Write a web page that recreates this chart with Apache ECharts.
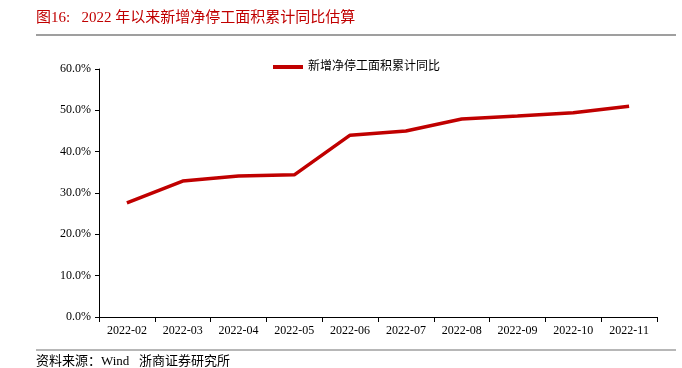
<!DOCTYPE html>
<html>
<head>
<meta charset="utf-8">
<script src="https://cdn.jsdelivr.net/npm/echarts@6/dist/echarts.min.js"></script>
<style>
html, body { margin: 0; padding: 0; background: #fff; }
#chart { width: 682px; height: 368px; }
</style>
</head>
<body>
<div id="chart"></div>
<script>
const months = ['2022-02', '2022-03', '2022-04', '2022-05', '2022-06', '2022-07', '2022-08', '2022-09', '2022-10', '2022-11']
const yoyValues = [27.6, 32.9, 34.1, 34.4, 44.0, 45.0, 47.9, 48.6, 49.4, 51.0]
const seriesName = '新增净停工面积累计同比'
const titleText = '图16:   2022 年以来新增净停工面积累计同比估算'
const sourceText = '资料来源：Wind   浙商证券研究所'

const fontFam = "'Liberation Serif', 'Noto Sans CJK SC', serif"
const red = '#c00000'

let mycharts = echarts.init(document.getElementById('chart'))
let option = {
  animation: false,
  textStyle: { fontFamily: fontFam },
  grid: { left: 99, right: 25, top: 69, bottom: 51 },
  legend: {
    top: 56,
    left: 268,
    itemWidth: 30,
    itemHeight: 4,
    itemGap: 5,
    icon: 'rect',
    textStyle: { fontFamily: fontFam, fontSize: 12, color: '#000' },
    data: [seriesName]
  },
  graphic: [
    {
      type: 'text', left: 36, top: 11,
      style: { text: titleText, fill: red, font: "15px 'Liberation Serif', 'Noto Sans CJK SC', serif" }
    },
    {
      type: 'line', shape: { x1: 36, y1: 35, x2: 676, y2: 35 },
      style: { stroke: '#7f7f7f', lineWidth: 1.5 }
    },
    {
      type: 'line', shape: { x1: 36, y1: 350, x2: 676, y2: 350 },
      style: { stroke: '#9f9f9f', lineWidth: 1.5 }
    },
    {
      type: 'text', left: 36, top: 355,
      style: { text: sourceText, fill: '#000', font: "13px 'Liberation Serif', 'Noto Sans CJK SC', serif" }
    }
  ],
  xAxis: {
    type: 'category',
    data: months,
    boundaryGap: true,
    axisLine: { lineStyle: { color: '#000', width: 1 } },
    axisTick: { show: true, alignWithLabel: false, lineStyle: { color: '#000' } },
    axisLabel: { color: '#000', fontSize: 12, fontFamily: fontFam, interval: 0, margin: 8 }
  },
  yAxis: {
    type: 'value',
    min: 0,
    max: 60,
    interval: 10,
    splitLine: { show: false },
    axisLine: { show: true, lineStyle: { color: '#000', width: 1 } },
    axisTick: { show: true, inside: false, length: 4, lineStyle: { color: '#000' } },
    axisLabel: {
      color: '#000', fontSize: 12, fontFamily: fontFam, margin: 8,
      formatter: v => v.toFixed(1) + '%'
    }
  },
  series: [
    {
      name: seriesName,
      type: 'line',
      data: yoyValues,
      symbol: 'none',
      lineStyle: { color: red, width: 3.5 },
      itemStyle: { color: red }
    }
  ]
}
mycharts.setOption(option)
window.addEventListener('resize', function() {
  mycharts.resize()
})
</script>
</body>
</html>
